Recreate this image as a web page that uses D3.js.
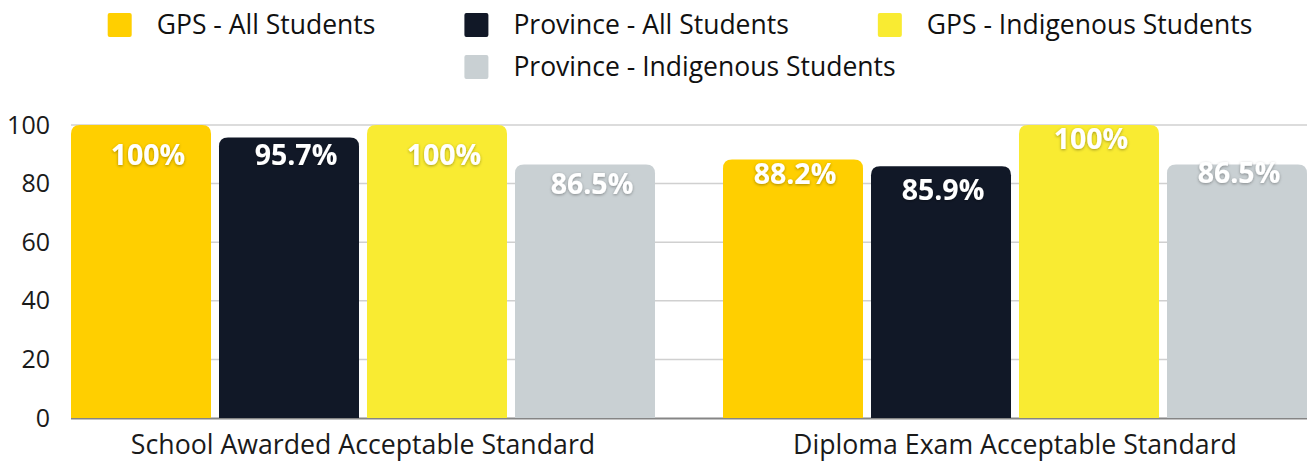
<!DOCTYPE html>
<html>
<head>
<meta charset="utf-8">
<script src="https://cdn.jsdelivr.net/npm/d3@7"></script>
<style>
  body { margin: 0; background: #fff; }
  svg { display: block; font-family: "Open Sans", sans-serif; }
</style>
</head>
<body>
<div id="vis"></div>
<script>
// data
var categories = ["School Awarded Acceptable Standard", "Diploma Exam Acceptable Standard"];
var seriesNames = ["GPS - All Students", "Province - All Students", "GPS - Indigenous Students", "Province - Indigenous Students"];
var gpsAll = [100, 88.2];
var provinceAll = [95.7, 85.9];
var gpsIndigenous = [100, 100];
var provinceIndigenous = [86.5, 86.5];
var valueLabels = [["100%", "88.2%"], ["95.7%", "85.9%"], ["100%", "100%"], ["86.5%", "86.5%"]];
var yTicks = [0, 20, 40, 60, 80, 100];

// styling
var colors = ["#FFCF00", "#111827", "#F9EB32", "#C9D0D3"];
// label baseline offset below bar top, per series per category
var labelDy = [[40, 24], [27, 34], [40, 24], [29, 18]];
var labelDx = [7, 2];

var width = 1307, height = 462;
var margin = {top: 125, right: 0, bottom: 44, left: 71};
var plotBottom = height - margin.bottom;

var svg = d3.select("#vis").append("svg")
    .attr("width", width)
    .attr("height", height);

var defs = svg.append("defs");
var f = defs.append("filter").attr("id", "shadow")
    .attr("x", "-20%").attr("y", "-30%").attr("width", "140%").attr("height", "160%");
f.append("feDropShadow").attr("dx", 0).attr("dy", 1).attr("stdDeviation", 1.5)
    .attr("flood-color", "#000").attr("flood-opacity", 0.35);

var seriesValues = [gpsAll, provinceAll, gpsIndigenous, provinceIndigenous];

var x0 = d3.scaleBand().domain(categories)
    .range([margin.left, width - margin.right])
    .paddingInner(0.1043).paddingOuter(0);
var x1 = d3.scaleBand().domain(d3.range(seriesNames.length))
    .range([0, x0.bandwidth()])
    .paddingInner(0.054).paddingOuter(0);
var y = d3.scaleLinear().domain([0, 100]).range([plotBottom, margin.top]);

// grid lines
svg.append("g").selectAll("line")
    .data(yTicks.filter(function(t){ return t > 0; }))
    .enter().append("line")
    .attr("x1", margin.left).attr("x2", width - margin.right)
    .attr("y1", function(d){ return y(d); }).attr("y2", function(d){ return y(d); })
    .attr("stroke", "#d0d0d0").attr("stroke-width", 1.5);

// zero line
svg.append("line")
    .attr("x1", margin.left).attr("x2", width - margin.right)
    .attr("y1", y(0) + 0.5).attr("y2", y(0) + 0.5)
    .attr("stroke", "#858585").attr("stroke-width", 2);

// y axis labels
var yAxis = d3.axisLeft(y).tickValues(yTicks).tickSize(0).tickPadding(0);
var yg = svg.append("g").attr("transform", "translate(50,0)").call(yAxis);
yg.select(".domain").remove();
yg.selectAll("text")
    .style("font-size", "25px")
    .style("font-family", "'Open Sans', sans-serif")
    .attr("fill", "#1a1a1a");

// top-rounded bar path
function barPath(x, yTop, w, h, r) {
  r = Math.min(r, h, w / 2);
  return "M" + x + "," + (yTop + h) +
    "V" + (yTop + r) +
    "Q" + x + "," + yTop + " " + (x + r) + "," + yTop +
    "H" + (x + w - r) +
    "Q" + (x + w) + "," + yTop + " " + (x + w) + "," + (yTop + r) +
    "V" + (yTop + h) + "Z";
}

var rows = [];
categories.forEach(function(c, ci){
  seriesValues.forEach(function(vals, si){
    rows.push({cat: c, ci: ci, si: si, value: vals[ci], label: valueLabels[si][ci]});
  });
});

var bars = svg.append("g");
bars.selectAll("path")
    .data(rows)
    .enter().append("path")
    .attr("d", function(d){
      var bx = x0(d.cat) + x1(d.si);
      var top = y(d.value);
      return barPath(bx, top, x1.bandwidth(), y(0) - top, 9);
    })
    .attr("fill", function(d){ return colors[d.si]; });

bars.selectAll("text")
    .data(rows)
    .enter().append("text")
    .attr("x", function(d){ return x0(d.cat) + x1(d.si) + x1.bandwidth() / 2 + labelDx[d.ci]; })
    .attr("y", function(d){ return y(d.value) + labelDy[d.si][d.ci]; })
    .attr("text-anchor", "middle")
    .attr("fill", "#fff")
    .attr("filter", "url(#shadow)")
    .style("font-size", "28.5px")
    .style("font-weight", "700")
    .text(function(d){ return d.label; });

// x axis labels
var xAxis = d3.axisBottom(x0).tickSize(0).tickPadding(0);
var xg = svg.append("g").attr("transform", "translate(0," + (plotBottom + 17) + ")").call(xAxis);
xg.select(".domain").remove();
xg.selectAll("text")
    .attr("dy", "0.71em")
    .style("font-size", "26.7px")
    .style("font-family", "'Open Sans', sans-serif")
    .attr("fill", "#1a1a1a");

// legend
var legend = svg.append("g");
var sq = 24, textGap = 25, itemGap = 89, rowH = 42, legendCenter = 680, maxRow = 1200;
var items = seriesNames.map(function(name, i){
  var g = legend.append("g");
  g.append("rect").attr("width", sq).attr("height", sq).attr("rx", 2)
    .attr("fill", colors[i]);
  var t = g.append("text").attr("x", sq + textGap).attr("y", 20.5)
    .style("font-size", "26.5px").attr("fill", "#111").text(name);
  return {g: g, w: sq + textGap + t.node().getComputedTextLength()};
});
var lines = [[]], cur = 0;
items.forEach(function(it){
  var need = (lines[lines.length - 1].length ? itemGap : 0) + it.w;
  if (cur + need > maxRow && lines[lines.length - 1].length) { lines.push([]); cur = 0; need = it.w; }
  lines[lines.length - 1].push(it);
  cur += need;
});
lines.forEach(function(line, li){
  var total = d3.sum(line, function(it){ return it.w; }) + itemGap * (line.length - 1);
  var xPos = legendCenter - total / 2;
  line.forEach(function(it){
    it.g.attr("transform", "translate(" + xPos + "," + (13 + li * rowH) + ")");
    xPos += it.w + itemGap;
  });
});
</script>
</body>
</html>
